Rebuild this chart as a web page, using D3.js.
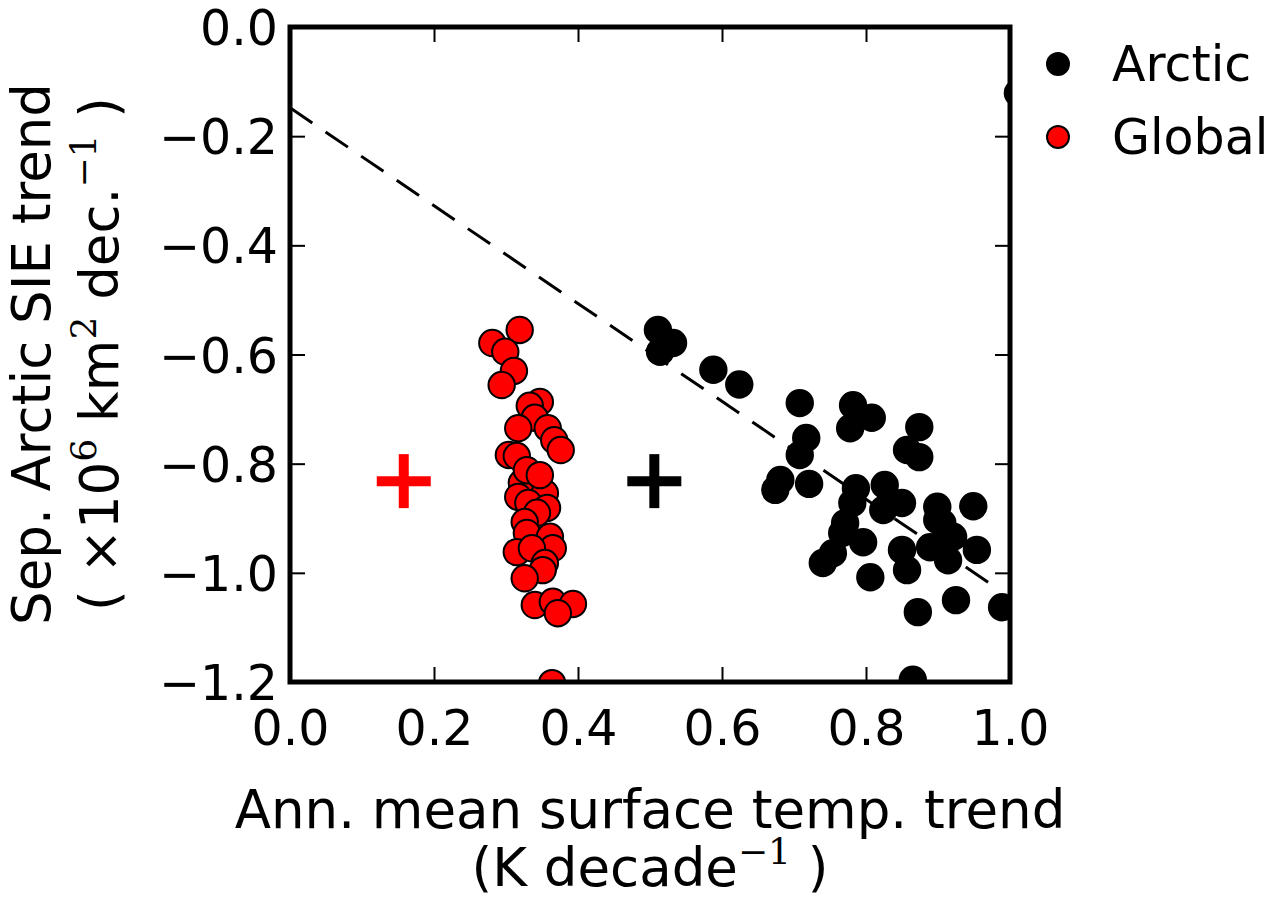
<!DOCTYPE html>
<html>
<head>
<meta charset="utf-8">
<script src="https://cdn.jsdelivr.net/npm/d3@7"></script>
<style>
html,body{margin:0;padding:0;background:#fff;}
svg{display:block;}
text{font-family:"DejaVu Sans",sans-serif;}
</style>
</head>
<body>
<svg id="chart" width="1268" height="904"></svg>
<script>
// ---- data ----
const arcticX = [0.511,0.532,0.514,0.588,0.624,0.708,0.782,0.808,0.778,0.874,0.857,0.874,0.717,0.708,0.681,0.674,0.721,0.786,0.781,0.826,0.824,0.850,0.899,0.949,0.771,0.767,0.796,0.754,0.740,0.850,0.857,0.806,0.889,0.906,0.914,0.921,0.954,0.872,0.925,0.989,0.865,0.899,1.011];
const arcticY = [-0.555,-0.579,-0.595,-0.628,-0.655,-0.689,-0.693,-0.716,-0.735,-0.733,-0.775,-0.788,-0.753,-0.784,-0.830,-0.848,-0.837,-0.845,-0.872,-0.839,-0.885,-0.872,-0.879,-0.878,-0.909,-0.927,-0.944,-0.964,-0.982,-0.958,-0.995,-1.008,-0.953,-0.909,-0.977,-0.934,-0.958,-1.072,-1.050,-1.063,-1.196,-0.903,-0.121];
const globalX = [0.319,0.281,0.299,0.311,0.294,0.347,0.333,0.340,0.317,0.358,0.367,0.376,0.304,0.315,0.329,0.322,0.354,0.317,0.331,0.357,0.343,0.326,0.329,0.361,0.365,0.315,0.336,0.354,0.351,0.326,0.340,0.365,0.393,0.372,0.364,0.329,0.347];
const globalY = [-0.555,-0.579,-0.595,-0.630,-0.656,-0.687,-0.694,-0.716,-0.735,-0.735,-0.757,-0.775,-0.784,-0.786,-0.826,-0.835,-0.854,-0.861,-0.872,-0.881,-0.890,-0.907,-0.927,-0.934,-0.955,-0.962,-0.955,-0.982,-0.995,-1.010,-1.059,-1.053,-1.057,-1.074,-1.202,-0.812,-0.821];
const meanX = [0.158, 0.506];       // Global, Arctic means (crosses)
const meanY = [-0.832, -0.832];
const fitX = [0.0, 0.985];
const fitY = [-0.148, -1.031];
const xTicks = [0.0,0.2,0.4,0.6,0.8,1.0];
const yTicks = [0.0,-0.2,-0.4,-0.6,-0.8,-1.0,-1.2];
const legendLabels = ["Arctic","Global"];
const colors = ["#000000","#ff0000"];

// ---- layout ----
const svg = d3.select("#chart");
const L = 290, R = 1010, T = 27, B = 682;
const x = d3.scaleLinear().domain([0,1]).range([L,R]);
const y = d3.scaleLinear().domain([-1.2,0]).range([B,T]);
const fmt = d => (d<0 ? "\u2212" : "") + Math.abs(d).toFixed(1);

svg.append("defs").append("clipPath").attr("id","clip")
  .append("rect").attr("x",L).attr("y",T).attr("width",R-L).attr("height",B-T);

const plot = svg.append("g").attr("clip-path","url(#clip)");

// fit line
plot.append("line")
  .attr("x1",x(fitX[0])).attr("y1",y(fitY[0]))
  .attr("x2",x(fitX[1])).attr("y2",y(fitY[1]))
  .attr("stroke","#000").attr("stroke-width",3).attr("stroke-dasharray","27,16");

const r = 13.2;
// Arctic
plot.selectAll("circle.arc").data(arcticX.map((v,i)=>[v,arcticY[i]])).enter()
  .append("circle").attr("class","arc")
  .attr("cx",d=>x(d[0])).attr("cy",d=>y(d[1])).attr("r",r)
  .attr("fill",colors[0]).attr("stroke","#000").attr("stroke-width",2);
// Global
plot.selectAll("circle.glob").data(globalX.map((v,i)=>[v,globalY[i]])).enter()
  .append("circle").attr("class","glob")
  .attr("cx",d=>x(d[0])).attr("cy",d=>y(d[1])).attr("r",r)
  .attr("fill",colors[1]).attr("stroke","#000").attr("stroke-width",2);

// crosses
const crossCol = [colors[1], colors[0]];
meanX.forEach((mx,i)=>{
  const cx = x(mx), cy = y(meanY[i]), h = 27;
  plot.append("line").attr("x1",cx-h).attr("x2",cx+h).attr("y1",cy).attr("y2",cy)
    .attr("stroke",crossCol[i]).attr("stroke-width",10);
  plot.append("line").attr("x1",cx).attr("x2",cx).attr("y1",cy-h).attr("y2",cy+h)
    .attr("stroke",crossCol[i]).attr("stroke-width",10);
});

// axes (ticks inward on all sides)
const tl = 15;
const axB = d3.axisBottom(x).tickValues(xTicks).tickSize(-tl).tickPadding(28).tickFormat(fmt);
const axT = d3.axisTop(x).tickValues(xTicks).tickSize(-tl).tickFormat("");
const axL = d3.axisLeft(y).tickValues(yTicks).tickSize(-tl).tickPadding(12).tickFormat(fmt);
const axR = d3.axisRight(y).tickValues(yTicks).tickSize(-tl).tickFormat("");
function style(g){
  g.select(".domain").remove();
  g.selectAll(".tick line").attr("stroke","#000").attr("stroke-width",2);
  g.selectAll(".tick text").attr("fill","#000").style("font-size","49px").style("font-family","DejaVu Sans");
}
svg.append("g").attr("transform",`translate(0,${B})`).call(axB).call(style);
svg.append("g").attr("transform",`translate(0,${T})`).call(axT).call(style);
const gL = svg.append("g").attr("transform",`translate(${L},0)`).call(axL).call(style);
gL.selectAll(".tick text").attr("dy","0.36em");
svg.append("g").attr("transform",`translate(${R},0)`).call(axR).call(style);

// frame
svg.append("rect").attr("x",L).attr("y",T).attr("width",R-L).attr("height",B-T)
  .attr("fill","none").attr("stroke","#000").attr("stroke-width",5);

// x label
svg.append("text").attr("text-anchor","middle").style("font-size","53px")
  .attr("x",650).attr("y",828).text("Ann. mean surface temp. trend");
const xl2 = svg.append("text").attr("text-anchor","middle").style("font-size","53px")
  .attr("x",650).attr("y",886);
xl2.append("tspan").text("(K decade");
xl2.append("tspan").attr("dy",-22).style("font-size","36px").style("font-family","DejaVu Serif").text("\u22121");
xl2.append("tspan").attr("dy",22).text(" )");

// y label
const yl = svg.append("g").attr("transform","translate(50,354) rotate(-90)");
yl.append("text").attr("text-anchor","middle").style("font-size","53px").text("Sep. Arctic SIE trend");
const yl2 = svg.append("g").attr("transform","translate(118,354) rotate(-90)")
  .append("text").attr("text-anchor","middle").style("font-size","53px");
yl2.append("tspan").text("( \u00d710");
yl2.append("tspan").attr("dy",-22).style("font-size","36px").style("font-family","DejaVu Serif").text("6");
yl2.append("tspan").attr("dy",22).text("  km");
yl2.append("tspan").attr("dy",-22).style("font-size","36px").style("font-family","DejaVu Serif").text("2");
yl2.append("tspan").attr("dy",22).text("  dec.");
yl2.append("tspan").attr("dy",-22).style("font-size","36px").style("font-family","DejaVu Serif").text("\u22121");
yl2.append("tspan").attr("dy",22).text(" )");

// legend
legendLabels.forEach((lab,i)=>{
  const ly = 64 + i*73;
  svg.append("circle").attr("cx",1058).attr("cy",ly).attr("r",11)
    .attr("fill",colors[i]).attr("stroke","#000").attr("stroke-width",2);
  svg.append("text").attr("x",1112).attr("y",ly+17).style("font-size","49px").text(lab);
});
</script>
</body>
</html>
